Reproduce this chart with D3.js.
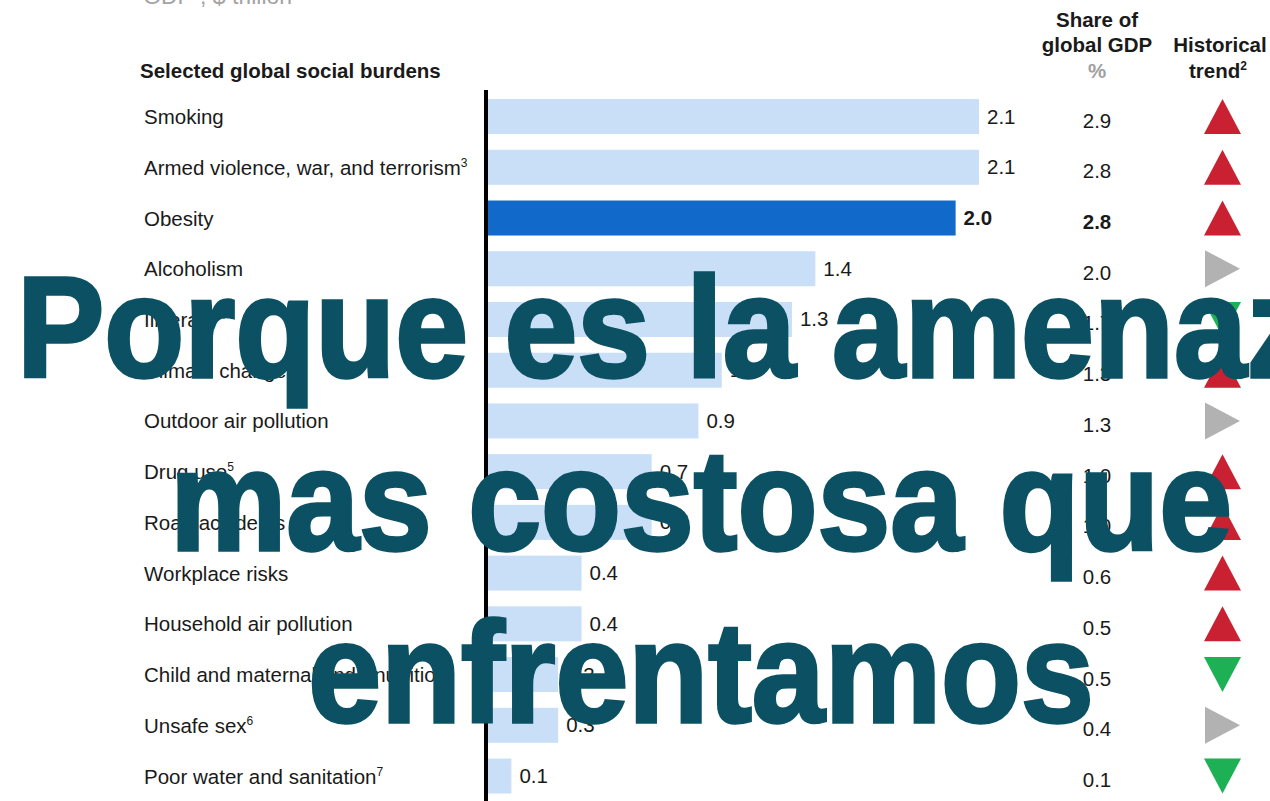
<!DOCTYPE html>
<html>
<head>
<meta charset="utf-8">
<script src="https://cdn.jsdelivr.net/npm/d3@7"></script>
<style>
  html, body { margin: 0; padding: 0; background: #fff; }
  svg { display: block; font-family: "Liberation Sans", Arial, sans-serif; }
</style>
</head>
<body>
<svg id="chart" width="1270" height="801"></svg>
<script>
// Selected global social burdens: economic impact
const categories = [
  "Smoking", "Armed violence, war, and terrorism", "Obesity", "Alcoholism",
  "Illiteracy", "Climate change", "Outdoor air pollution", "Drug use",
  "Road accidents", "Workplace risks", "Household air pollution",
  "Child and maternal undernutrition", "Unsafe sex", "Poor water and sanitation"
];
const footnotes = ["", "3", "", "", "4", "", "", "5", "", "", "", "", "6", "7"];
const gdpTrillion = [2.1, 2.1, 2.0, 1.4, 1.3, 1.0, 0.9, 0.7, 0.7, 0.4, 0.4, 0.3, 0.3, 0.1];
const shareOfGdp = [2.9, 2.8, 2.8, 2.0, 1.7, 1.3, 1.3, 1.0, 1.0, 0.6, 0.5, 0.5, 0.4, 0.1];
const trend = ["up", "up", "up", "flat", "down", "up", "flat", "up", "up", "up", "up", "down", "flat", "down"];
const highlighted = "Obesity";
const headline = ["Porque es la amenaza", "mas costosa que", "enfrentamos"];

const svg = d3.select("#chart");
const rows = categories.map((c, i) => ({
  name: c, note: footnotes[i], value: gdpTrillion[i], share: shareOfGdp[i], trend: trend[i]
}));

const y = d3.scaleBand()
  .domain(categories)
  .range([91.2, 801.4])
  .paddingInner(0.31)
  .paddingOuter(0.155);
const x = d3.scaleLinear().domain([0, 2.1]).range([488, 979]);
const cy = d => y(d.name) + y.bandwidth() / 2;

const ink = "#1a1a1a";
const fs = 20.5;

// Unit line, cut at top edge
svg.append("text")
  .attr("x", 143).attr("y", 4)
  .attr("fill", "#a3a3a3").attr("font-size", 23)
  .call(t => {
    t.append("tspan").text("GDP");
    t.append("tspan").attr("font-size", 13).attr("dy", -9).text("1");
    t.append("tspan").attr("dy", 9).text(", $ trillion");
  });

svg.append("text")
  .attr("x", 140).attr("y", 78)
  .attr("font-weight", "bold").attr("font-size", fs).attr("fill", ink)
  .text("Selected global social burdens");

// Column headers
const shareX = 1097, trendX = 1222.5;
svg.append("g").selectAll("text")
  .data([["Share of", 27, ink], ["global GDP", 52, ink], ["%", 78, "#a0a0a0"]])
  .join("text")
  .attr("x", shareX).attr("y", d => d[1])
  .attr("text-anchor", "middle").attr("font-weight", "bold").attr("font-size", fs)
  .attr("fill", d => d[2])
  .text(d => d[0]);
svg.append("text")
  .attr("x", 1220).attr("y", 52)
  .attr("text-anchor", "middle").attr("font-weight", "bold").attr("font-size", fs).attr("fill", ink)
  .text("Historical");
svg.append("text")
  .attr("x", 1218).attr("y", 78)
  .attr("text-anchor", "middle").attr("font-weight", "bold").attr("font-size", fs).attr("fill", ink)
  .call(t => {
    t.append("tspan").text("trend");
    t.append("tspan").attr("font-size", 12).attr("dy", -8).text("2");
  });

// Bars
svg.append("g").selectAll("rect")
  .data(rows)
  .join("rect")
  .attr("x", x(0))
  .attr("y", d => y(d.name))
  .attr("width", d => x(d.value) - x(0))
  .attr("height", y.bandwidth())
  .attr("fill", d => d.name === highlighted ? "#1169c9" : "#c9dff7");

// Baseline axis
svg.append("line")
  .attr("x1", x(0) - 2).attr("x2", x(0) - 2)
  .attr("y1", 90).attr("y2", 801)
  .attr("stroke", "#000").attr("stroke-width", 4);

// Category labels
svg.append("g").selectAll("text")
  .data(rows)
  .join("text")
  .attr("x", 144).attr("y", d => cy(d) + 7.5)
  .attr("font-size", fs).attr("fill", ink)
  .each(function (d) {
    const t = d3.select(this);
    t.append("tspan").text(d.name);
    if (d.note) t.append("tspan").attr("font-size", 12).attr("dy", -8).text(d.note);
  });

// Value labels
svg.append("g").selectAll("text")
  .data(rows)
  .join("text")
  .attr("x", d => x(d.value) + 8).attr("y", d => cy(d) + 7)
  .attr("font-size", fs).attr("fill", ink)
  .attr("font-weight", d => d.name === highlighted ? "bold" : "normal")
  .text(d => d.value.toFixed(1));

// Share of GDP column
svg.append("g").selectAll("text")
  .data(rows)
  .join("text")
  .attr("x", shareX).attr("y", d => cy(d) + 11)
  .attr("text-anchor", "middle")
  .attr("font-size", fs).attr("fill", ink)
  .attr("font-weight", d => d.name === highlighted ? "bold" : "normal")
  .text(d => d.share.toFixed(1));

// Trend arrows
const tw = 18.5, th = 17.5;
const trendShape = {
  up:   [[0, -th], [tw, th], [-tw, th]],
  down: [[-tw, -th], [tw, -th], [0, th]],
  flat: [[-th, -tw], [th, 0], [-th, tw]]
};
const trendColor = { up: "#c92132", down: "#1db054", flat: "#b2b2b2" };
svg.append("g").selectAll("path")
  .data(rows)
  .join("path")
  .attr("transform", d => `translate(${trendX},${cy(d)})`)
  .attr("d", d => d3.line()(trendShape[d.trend]) + "Z")
  .attr("fill", d => trendColor[d.trend]);

// Headline overlay, heavy condensed type
const headColor = "#0b5163";
const head = svg.append("g");
headline.forEach((line, i) => {
  head.append("text")
    .attr("transform", `translate(701,${377 + i * 172.5}) scale(0.922,1)`)
    .attr("text-anchor", "middle")
    .attr("font-weight", "bold")
    .attr("font-size", 142)
    .attr("fill", headColor)
    .attr("stroke", headColor).attr("stroke-width", 3.5)
    .attr("stroke-linejoin", "miter")
    .text(line);
});
</script>
</body>
</html>
